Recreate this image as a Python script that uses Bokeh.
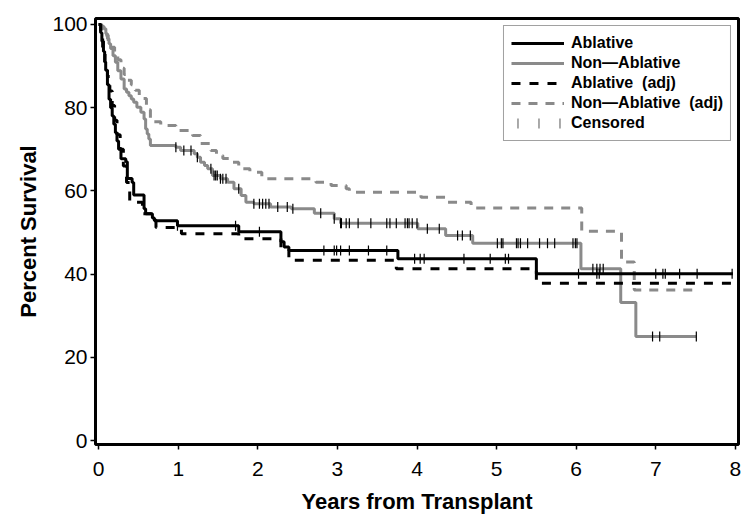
import numpy as np
from bokeh.plotting import figure
from bokeh.models import Range1d, FixedTicker, Legend, LegendItem
from bokeh.embed import file_html
from bokeh.resources import INLINE

# ---------------- data ----------------
abl_t = [0, 0.025, 0.04, 0.06, 0.075, 0.088, 0.11, 0.13, 0.15, 0.17, 0.19, 0.21, 0.23, 0.25,
         0.28, 0.34, 0.36, 0.42, 0.44, 0.57, 0.59, 0.675, 0.70, 0.99, 1.76, 2.29, 2.33, 2.39, 3.76, 5.50]
abl_s = [100, 98, 96, 93.5, 91, 89, 85.5, 82, 80, 78, 76, 74, 72, 70,
         67.7, 67, 63, 62, 59, 55.7, 54.5, 53.5, 52.8, 51.6, 50.2, 47.8, 46.5, 45.7, 43.7, 40.1]
abl_end = 7.97
abl_cens = [0.99, 1.72, 2.02, 2.83, 2.96, 2.99, 3.04, 3.15, 3.39, 3.62, 3.97, 4.04, 4.09, 4.59,
            4.92, 5.11, 5.15, 6.03, 6.26, 6.29, 7.00, 7.09, 7.12, 7.30, 7.52, 7.96]

non_t = [0, 0.03, 0.067, 0.09, 0.11, 0.13, 0.15, 0.18, 0.21, 0.24, 0.28, 0.32, 0.35, 0.38, 0.41,
         0.44, 0.48, 0.53, 0.57, 0.59, 0.61, 0.63, 0.65, 0.97, 1.03, 1.20, 1.24, 1.28, 1.33, 1.37,
         1.43, 1.53, 1.62, 1.70, 1.79, 1.85, 1.95, 2.16, 2.42, 2.71, 2.96, 3.04, 4.01, 4.36, 4.70,
         6.06, 6.56, 6.75]
non_s = [100, 99.5, 99, 97.8, 96.6, 95.4, 94.2, 92.5, 90.9, 88.9, 86.9, 84.5, 83.7, 82.9, 82.1,
         81.3, 80.1, 78.9, 77.3, 74.9, 73.7, 72.5, 70.9, 70.5, 69.7, 68.9, 68.1, 66.9, 66.1, 65.3,
         63.7, 62.9, 62.1, 60.5, 58.9, 57.3, 56.9, 56.1, 55.7, 54.6, 53.3, 52.2, 50.9, 49.3, 47.4,
         41.3, 33.2, 25.0]
non_end = 7.51
non_cens = [0.97, 1.07, 1.16, 1.24, 1.41, 1.45, 1.47, 1.49, 1.53, 1.56, 1.60, 1.76, 1.95, 2.02,
            2.06, 2.10, 2.14, 2.25, 2.37, 2.44, 2.79, 2.96, 3.04, 3.05, 3.11, 3.15, 3.26, 3.42,
            3.62, 3.66, 3.74, 3.85, 3.88, 3.90, 3.94, 4.00, 4.13, 4.28, 4.51, 4.57, 4.67, 5.01,
            5.06, 5.08, 5.25, 5.27, 5.30, 5.39, 5.54, 5.64, 5.73, 5.96, 5.99, 6.01, 6.21, 6.26,
            6.30, 6.34, 6.96, 7.05, 7.51]

abl_adj_t = [0, 0.025, 0.05, 0.08, 0.11, 0.14, 0.17, 0.20, 0.23, 0.27, 0.31, 0.35, 0.39, 0.55,
             0.66, 0.72, 1.04, 1.76, 2.29, 2.39, 3.74, 5.50]
abl_adj_s = [100, 97, 94, 91, 87.5, 84, 80.5, 77, 73.5, 70, 66, 62, 57.3, 54.5,
             53, 51.2, 49.7, 48.5, 46, 43.3, 41.3, 37.8]
abl_adj_end = 7.96

non_adj_t = [0, 0.04, 0.08, 0.12, 0.16, 0.20, 0.24, 0.28, 0.32, 0.36, 0.41, 0.46, 0.51, 0.55,
             0.60, 0.65, 0.78, 0.97, 1.18, 1.28, 1.41, 1.48, 1.56, 1.66, 1.76, 1.90, 2.05, 2.73,
             2.92, 3.11, 3.15, 4.05, 4.39, 4.68, 6.07, 6.57, 6.73]
non_adj_s = [100, 99, 97.5, 96, 94.5, 93, 91.5, 89.5, 88, 86.6, 85.5, 84.2, 83, 82.2,
             79.5, 76.6, 75.7, 74.5, 73.3, 71.4, 69.7, 68.5, 67.8, 66.9, 65.3, 64.5, 62.9, 62.1,
             61.3, 60.5, 59.7, 58.5, 57.3, 55.9, 50.3, 42.9, 36.2]
non_adj_end = 7.51

x_ticks = [0, 1, 2, 3, 4, 5, 6, 7, 8]
y_ticks = [0, 20, 40, 60, 80, 100]

labels = ["Ablative", "Non\u2014Ablative", "Ablative  (adj)", "Non\u2014Ablative  (adj)", "Censored"]

BLACK = "#000000"
GREY = "#8a8a8a"
FONT = "Liberation Sans"

# ---------------- figure ----------------
p = figure(width=750, height=531, x_range=Range1d(-0.04, 8.04), y_range=Range1d(-0.96, 101.44),
           output_backend="svg", toolbar_location=None,
           min_border_left=95, min_border_right=12, min_border_top=18, min_border_bottom=87)
p.xgrid.visible = False
p.ygrid.visible = False
p.outline_line_color = "black"
p.outline_line_width = 3
p.background_fill_color = "white"
p.border_fill_color = "white"

for ax in (p.xaxis[0], p.yaxis[0]):
    ax.axis_line_color = None
    ax.major_tick_line_color = "black"
    ax.major_tick_line_width = 1.5
    ax.major_tick_out = 5
    ax.major_tick_in = 0
    ax.minor_tick_line_color = None
    ax.major_label_text_font = FONT
    ax.major_label_text_font_size = "21px"
    ax.major_label_text_color = "black"
    ax.axis_label_text_font = FONT
    ax.axis_label_text_font_size = "22px"
    ax.axis_label_text_font_style = "bold"
    ax.axis_label_text_color = "black"

p.xaxis.ticker = FixedTicker(ticks=x_ticks)
p.yaxis.ticker = FixedTicker(ticks=y_ticks)
p.xaxis.axis_label = "Years from Transplant"
p.yaxis.axis_label = "Percent Survival"
p.xaxis.major_label_standoff = 12
p.xaxis.axis_label_standoff = 10
p.yaxis.major_label_standoff = 3
p.yaxis.axis_label_standoff = 8


def step_xy(t, s, end):
    return list(t) + [end], list(s) + [s[-1]]


def at(t, s, c):
    t = np.asarray(t)
    s = np.asarray(s)
    idx = np.searchsorted(t, np.asarray(c), side="right") - 1
    return s[idx]


x, y = step_xy(non_adj_t, non_adj_s, non_adj_end)
r_nadj = p.step(x, y, mode="after", line_color=GREY, line_width=3, line_dash="9 8")
x, y = step_xy(non_t, non_s, non_end)
r_non = p.step(x, y, mode="after", line_color=GREY, line_width=3)
x, y = step_xy(abl_adj_t, abl_adj_s, abl_adj_end)
r_aadj = p.step(x, y, mode="after", line_color=BLACK, line_width=3, line_dash="9 9")
x, y = step_xy(abl_t, abl_s, abl_end)
r_abl = p.step(x, y, mode="after", line_color=BLACK, line_width=3)

p.scatter(non_cens, at(non_t, non_s, non_cens), marker="dash", angle=np.pi / 2, size=10,
          line_color="black", line_width=1.2)
p.scatter(abl_cens, at(abl_t, abl_s, abl_cens), marker="dash", angle=np.pi / 2, size=10,
          line_color="black", line_width=1.2)

# legend-only renderer for the censoring ticks (one NaN point: nothing drawn in the plot)
r_cens = p.line(x=[np.nan], y=[np.nan], line_color="#555555", line_width=10, line_dash="1 20",
                line_dash_offset=15)

legend = Legend(items=[
    LegendItem(label=labels[0], renderers=[r_abl]),
    LegendItem(label=labels[1], renderers=[r_non]),
    LegendItem(label=labels[2], renderers=[r_aadj]),
    LegendItem(label=labels[3], renderers=[r_nadj]),
    LegendItem(label=labels[4], renderers=[r_cens]),
], location="top_right")
legend.label_text_font = FONT
legend.label_text_font_style = "bold"
legend.label_text_font_size = "16px"
legend.label_text_color = "black"
legend.glyph_width = 53
legend.glyph_height = 20
legend.label_height = 20
legend.spacing = 0
legend.padding = 7
legend.margin = 7
legend.label_standoff = 7
legend.border_line_color = "#444444"
legend.border_line_width = 1
legend.background_fill_alpha = 1
p.add_layout(legend)

open("out.html", "w").write(file_html(p, INLINE))
